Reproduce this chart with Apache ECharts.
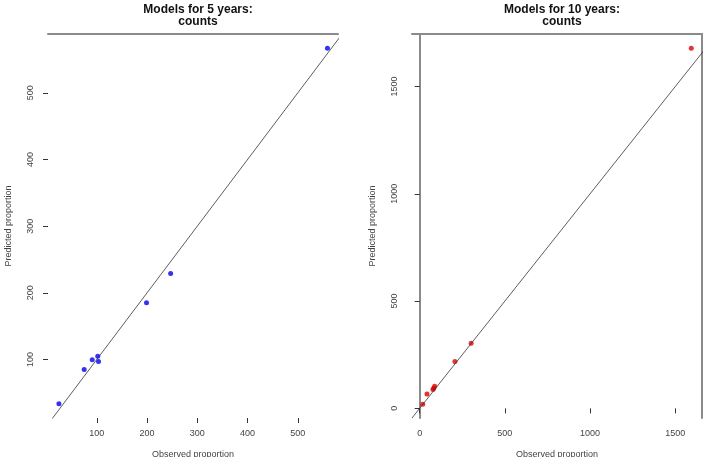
<!DOCTYPE html>
<html>
<head>
<meta charset="utf-8">
<script src="https://cdn.jsdelivr.net/npm/echarts@6/dist/echarts.min.js"></script>
<style>
  html, body { margin: 0; padding: 0; background: #fff; }
  #chart { width: 707px; height: 457px; }
</style>
</head>
<body>
<div id="chart"></div>
<script>
// ─── Data ──────────────────────────────────────────────────────────
const titles5 = "Models for 5 years:\ncounts";
const titles10 = "Models for 10 years:\ncounts";
const xName = "Observed proportion";
const yName = "Predicted proportion";

// 5-year model: [observed, predicted]
const points5 = [
  [24.7, 33.6], [75, 85], [91, 99.5], [102, 105], [103.5, 97],
  [199, 185], [247, 229], [559, 567],
];
// 10-year model: [observed, predicted]
const points10 = [
  [18, 19], [43, 67], [78, 88], [82, 94], [88, 103],
  [207, 218], [302, 303], [1594, 1678],
];

// axis limits (R style: data range + 4%)
const xLim5 = [3, 580];
const yLim5 = [12.3, 588.3];
const xLim10 = [-45, 1657];
const yLim10 = [-45, 1745];

const xTicks5 = [100, 200, 300, 400, 500];
const yTicks5 = [100, 200, 300, 400, 500];
const xTicks10 = [0, 500, 1000, 1500];
const yTicks10 = [0, 500, 1000, 1500];

// y = x reference line spanning both axis ranges
function diagonal(xl, yl) {
  const lo = Math.min(xl[0], yl[0]);
  const hi = Math.max(xl[1], yl[1]);
  return [[lo, lo], [hi, hi]];
}

const FONT = "Liberation Sans, Arial, sans-serif";
const BOX = "#8a8a8a";
const LABEL = "#444";
const plain = (v) => String(v);

function mainX(grid, lim, ticks, showLine) {
  return {
    type: "value", gridIndex: grid, min: lim[0], max: lim[1],
    name: xName, nameLocation: "middle", nameGap: 32,
    nameTextStyle: { fontFamily: FONT, fontSize: 9, color: LABEL },
    axisLine: { show: showLine, lineStyle: { color: BOX, width: 2 } },
    axisTick: { show: true, length: 5, customValues: ticks, lineStyle: { color: "#333" } },
    axisLabel: { show: true, customValues: ticks, formatter: plain, margin: 11, fontFamily: FONT, fontSize: 9, color: LABEL },
    splitLine: { show: false },
  };
}

function mainY(grid, lim, ticks, showLine) {
  return {
    type: "value", gridIndex: grid, min: lim[0], max: lim[1],
    name: yName, nameLocation: "middle", nameGap: 35,
    nameTextStyle: { fontFamily: FONT, fontSize: 9, color: LABEL },
    axisLine: { show: showLine, lineStyle: { color: BOX, width: 2 } },
    axisTick: { show: true, length: 5, customValues: ticks, lineStyle: { color: "#333" } },
    axisLabel: { show: true, rotate: 90, customValues: ticks, formatter: plain, margin: 13, fontFamily: FONT, fontSize: 9, color: LABEL },
    splitLine: { show: false },
  };
}

// border-only axes (box sides)
function borderAxis(grid, lim, position) {
  return {
    type: "value", gridIndex: grid, min: lim[0], max: lim[1], position: position,
    axisLine: { show: true, onZero: false, lineStyle: { color: BOX, width: 2 } },
    axisTick: { show: false }, axisLabel: { show: false }, splitLine: { show: false },
  };
}

const chart = echarts.init(document.getElementById("chart"), null, { renderer: "canvas" });

chart.setOption({
  animation: false,
  backgroundColor: "#fff",
  title: [
    {
      text: titles5, left: 193, top: -1, textAlign: "center",
      textStyle: { fontFamily: FONT, fontSize: 12, fontWeight: "bold", color: "#111", lineHeight: 12 },
    },
    {
      text: titles10, left: 557, top: -1, textAlign: "center",
      textStyle: { fontFamily: FONT, fontSize: 12, fontWeight: "bold", color: "#111", lineHeight: 12 },
    },
  ],
  grid: [
    { left: 48, top: 34, width: 290, height: 384, containLabel: false, outerBoundsMode: "none" },
    { left: 412, top: 34, width: 290, height: 384, containLabel: false, outerBoundsMode: "none" },
  ],
  xAxis: [
    mainX(0, xLim5, xTicks5, false),
    mainX(1, xLim10, xTicks10, false),
    borderAxis(0, xLim5, "top"),
    borderAxis(1, xLim10, "top"),
  ],
  yAxis: [
    mainY(0, yLim5, yTicks5, false),
    mainY(1, yLim10, yTicks10, true),
    borderAxis(1, yLim10, "right"),
  ],
  series: [
    {
      type: "line", xAxisIndex: 0, yAxisIndex: 0, data: diagonal(xLim5, yLim5),
      showSymbol: false, clip: true, silent: true,
      lineStyle: { color: "#333", width: 0.8 },
    },
    {
      type: "line", xAxisIndex: 1, yAxisIndex: 1, data: diagonal(xLim10, yLim10),
      showSymbol: false, clip: true, silent: true,
      lineStyle: { color: "#333", width: 0.8 },
    },
    {
      type: "scatter", xAxisIndex: 0, yAxisIndex: 0, data: points5,
      symbolSize: 5, itemStyle: { color: "#0000ee" },
    },
    {
      type: "scatter", xAxisIndex: 1, yAxisIndex: 1, data: points10,
      symbolSize: 5, itemStyle: { color: "#e00000" },
    },
  ],
});
</script>
</body>
</html>
